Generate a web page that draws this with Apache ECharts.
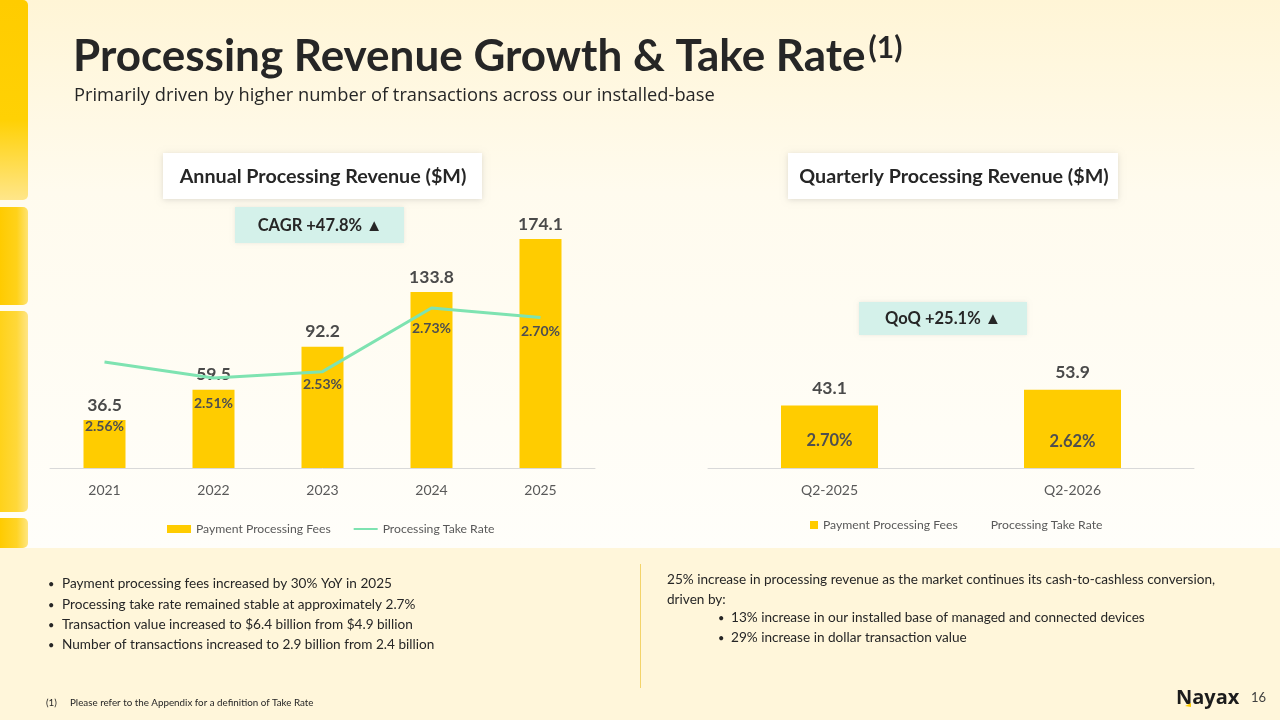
<!DOCTYPE html>
<html>
<head>
<meta charset="utf-8">
<script src="https://cdn.jsdelivr.net/npm/echarts@6/dist/echarts.min.js"></script>
<style>
html,body{margin:0;padding:0;background:#fffdf6;}
#c{width:1280px;height:720px;}
</style>
</head>
<body>
<div id="c"></div>
<script>
// ---- data ----
const years = ['2021', '2022', '2023', '2024', '2025'];
const annualFees = [36.5, 59.5, 92.2, 133.8, 174.1];
const annualTakeRate = [2.56, 2.51, 2.53, 2.73, 2.70];
const quarters = ['Q2-2025', 'Q2-2026'];
const quarterlyFees = [43.1, 53.9];
const quarterlyTakeRate = [2.70, 2.62];
const seriesNames = ['Payment Processing Fees', 'Processing Take Rate'];

// ---- styles ----
const annualRateLabelShift = [52, 13, 0, 8, 1];
const FONT = 'Lato, "Open Sans", sans-serif';
const YELLOW = '#FFCC00';
const MINT = '#7EE3B1';
const DARK = '#262626';
const GRAY = '#595959';
const BODY = 13.6;

const chart = echarts.init(document.getElementById('c'), null, {renderer: 'canvas'});

function txt(x, y, text, opts) {
  return {type: 'text', z: 20, style: Object.assign({x: x, y: y, text: text, fontFamily: FONT, fontSize: BODY, fill: DARK, textVerticalAlign: 'middle'}, opts || {})};
}
function sideBar(y, h, stops, dir) {
  return {type: 'rect', z: 2, shape: {x: 0, y: y, width: 28, height: h, r: [0, 5, 5, 0]},
    style: {fill: new echarts.graphic.LinearGradient(0, 0, dir === 'h' ? 1 : 0, dir === 'h' ? 0 : 1, stops)}};
}

const graphics = [
  {type: 'rect', z: 0, shape: {x: 0, y: 0, width: 1280, height: 548},
    style: {fill: new echarts.graphic.LinearGradient(0, 0, 0, 1, [
      {offset: 0, color: '#FFF5D6'}, {offset: 0.35, color: '#FFFBEE'}, {offset: 1, color: '#FFFEFA'}])}},
  {type: 'rect', z: 0, shape: {x: 0, y: 548, width: 1280, height: 172}, style: {fill: '#FFF6DA'}},
  sideBar(0, 200, [{offset: 0, color: '#FFCC00'}, {offset: 0.6, color: '#FFD104'}, {offset: 1, color: '#FFE68A'}], 'v'),
  sideBar(207, 98, [{offset: 0, color: '#FFCB00'}, {offset: 0.6, color: '#FFD21A'}, {offset: 1, color: '#FFE372'}], 'h'),
  sideBar(311, 201, [{offset: 0, color: '#FFD21A'}, {offset: 0.6, color: '#FFD83A'}, {offset: 1, color: '#FFE585'}], 'h'),
  sideBar(518, 30, [{offset: 0, color: '#FFCB00'}, {offset: 0.6, color: '#FFD426'}, {offset: 1, color: '#FFE680'}], 'h'),

  // title + subtitle
  {type: 'text', z: 20, style: {x: 73, y: 57, textVerticalAlign: 'middle', fill: DARK,
    text: '{t|Processing Revenue Growth & Take Rate}{s|(1)}',
    rich: {t: {fontFamily: FONT, fontSize: 44, fontWeight: 'bold', fill: DARK},
           s: {fontFamily: FONT, fontSize: 30, fontWeight: 'bold', fill: DARK, verticalAlign: 'top', padding: [0, 0, 18, 3]}}}},
  txt(74, 96, 'Primarily driven by higher number of transactions across our installed-base', {fontFamily: '"Open Sans", sans-serif', fontSize: 18.3}),

  // chart title boxes
  {type: 'rect', z: 10, shape: {x: 163, y: 153, width: 319, height: 46},
    style: {fill: '#FFFFFF', shadowBlur: 6, shadowColor: 'rgba(0,0,0,0.13)', shadowOffsetY: 1}},
  txt(323, 177, 'Annual Processing Revenue ($M)', {fontSize: 19.7, fontWeight: 'bold', textAlign: 'center'}),
  {type: 'rect', z: 10, shape: {x: 788, y: 153, width: 330, height: 46},
    style: {fill: '#FFFFFF', shadowBlur: 6, shadowColor: 'rgba(0,0,0,0.13)', shadowOffsetY: 1}},
  txt(954, 177, 'Quarterly Processing Revenue ($M)', {fontSize: 19.7, fontWeight: 'bold', textAlign: 'center'}),

  // growth badges
  {type: 'rect', z: 10, shape: {x: 235, y: 207, width: 169, height: 36},
    style: {fill: '#D4F1EA', shadowBlur: 4, shadowColor: 'rgba(0,0,0,0.08)'}},
  txt(320, 226, 'CAGR +47.8% \u25B2', {fontSize: 16.5, fontWeight: 'bold', textAlign: 'center'}),
  {type: 'rect', z: 10, shape: {x: 859, y: 302, width: 168, height: 33},
    style: {fill: '#D4F1EA', shadowBlur: 4, shadowColor: 'rgba(0,0,0,0.08)'}},
  txt(943, 319, 'QoQ +25.1% \u25B2', {fontSize: 16.5, fontWeight: 'bold', textAlign: 'center'}),

  // bottom notes
  {type: 'line', z: 5, shape: {x1: 640.5, y1: 564, x2: 640.5, y2: 688}, style: {stroke: '#F3D36A', lineWidth: 1}},
  txt(48, 584, '\u2022', {fontSize: 11}), txt(62, 584, 'Payment processing fees increased by 30% YoY in 2025'),
  txt(48, 605, '\u2022', {fontSize: 11}), txt(62, 605, 'Processing take rate remained stable at approximately 2.7%'),
  txt(48, 625, '\u2022', {fontSize: 11}), txt(62, 625, 'Transaction value increased to $6.4 billion from $4.9 billion'),
  txt(48, 645, '\u2022', {fontSize: 11}), txt(62, 645, 'Number of transactions increased to 2.9 billion from 2.4 billion'),
  txt(667, 580, '25% increase in processing revenue as the market continues its cash-to-cashless conversion,'),
  txt(667, 600, 'driven by:'),
  txt(718, 618, '\u2022', {fontSize: 11}), txt(731, 618, '13% increase in our installed base of managed and connected devices'),
  txt(718, 638, '\u2022', {fontSize: 11}), txt(731, 638, '29% increase in dollar transaction value'),
  txt(46, 703, '(1)', {fontSize: 9.8}),
  txt(70, 703, 'Please refer to the Appendix for a definition of Take Rate', {fontSize: 9.8}),
  txt(1176, 698, 'Nayax', {fontSize: 20, fontWeight: 'bold', fill: '#1C1C1C', fontFamily: '"Open Sans", sans-serif'}),
  {type: 'polygon', z: 21, shape: {points: [[1185, 706], [1191, 703], [1191, 707]]}, style: {fill: YELLOW}},
  txt(1251, 698, '16', {fontSize: 13, fill: '#404040'})
];

const annualRateData = annualTakeRate.map(function (v, i) {
  return {value: v, label: {offset: [0, annualRateLabelShift[i]]}};
});

const option = {
  backgroundColor: 'transparent',
  animation: false,
  textStyle: {fontFamily: FONT},
  graphic: graphics,
  grid: [
    {left: 50, right: 685, top: 205, bottom: 252},
    {left: 708, right: 86, top: 323, bottom: 252}
  ],
  xAxis: [
    {type: 'category', gridIndex: 0, data: years,
      axisLine: {lineStyle: {color: '#D9D9D9', width: 1}}, axisTick: {show: false},
      axisLabel: {color: GRAY, fontSize: 14, margin: 15, fontFamily: FONT}},
    {type: 'category', gridIndex: 1, data: quarters,
      axisLine: {lineStyle: {color: '#D9D9D9', width: 1}}, axisTick: {show: false},
      axisLabel: {color: GRAY, fontSize: 14, margin: 15, fontFamily: FONT}}
  ],
  yAxis: [
    {type: 'value', gridIndex: 0, min: 0, max: 200, show: false, splitLine: {show: false}},
    {type: 'value', gridIndex: 0, min: 2.227, max: 3.054, show: false, splitLine: {show: false}},
    {type: 'value', gridIndex: 1, min: 0, max: 100, show: false, splitLine: {show: false}},
    {type: 'value', gridIndex: 1, min: 0, max: 14.3, show: false, splitLine: {show: false}}
  ],
  legend: [
    {left: 162, top: 518, itemWidth: 24, itemHeight: 8, itemGap: 22,
      textStyle: {color: GRAY, fontSize: 12.2, fontFamily: FONT},
      data: [{name: seriesNames[0], icon: 'rect'}, {name: seriesNames[1]}]},
    {left: 805, top: 514, itemWidth: 8, itemHeight: 8, itemGap: 20,
      textStyle: {color: GRAY, fontSize: 12.2, fontFamily: FONT},
      data: [{name: seriesNames[0], icon: 'rect'}, {name: seriesNames[1], icon: 'none'}]}
  ],
  series: [
    {name: seriesNames[0], type: 'bar', xAxisIndex: 0, yAxisIndex: 0, data: annualFees,
      barWidth: 42, itemStyle: {color: YELLOW}, z: 2,
      label: {show: true, position: 'top', distance: 6, color: '#4A4A4A', fontSize: 17.5, fontWeight: 'bold', fontFamily: FONT,
        formatter: function (p) { return p.value.toFixed(1); }}},
    {name: seriesNames[1], type: 'line', xAxisIndex: 0, yAxisIndex: 1, data: annualRateData,
      color: MINT, lineStyle: {color: MINT, width: 3}, symbol: 'circle', symbolSize: 1,
      itemStyle: {color: 'rgba(126,227,177,0)'}, z: 3,
      label: {show: true, position: 'bottom', distance: 5, color: '#4F4F4F', fontSize: 14, fontWeight: 'bold', fontFamily: FONT,
        formatter: function (p) { return p.value.toFixed(2) + '%'; }}},
    {name: seriesNames[0], type: 'bar', xAxisIndex: 1, yAxisIndex: 2, data: quarterlyFees,
      barWidth: 97, itemStyle: {color: YELLOW}, z: 2,
      label: {show: true, position: 'top', distance: 8, color: '#4A4A4A', fontSize: 17.5, fontWeight: 'bold', fontFamily: FONT,
        formatter: function (p) { return p.value.toFixed(1); }}},
    {name: seriesNames[1], type: 'line', xAxisIndex: 1, yAxisIndex: 3, data: quarterlyTakeRate,
      lineStyle: {opacity: 0, width: 0}, symbol: 'circle', symbolSize: 1,
      itemStyle: {color: 'rgba(0,0,0,0)'}, z: 3,
      label: {show: true, position: 'inside', color: '#4F4F4F', fontSize: 16.5, fontWeight: 'bold', fontFamily: FONT,
        formatter: function (p) { return p.value.toFixed(2) + '%'; }}}
  ]
};
chart.setOption(option);
</script>
</body>
</html>
